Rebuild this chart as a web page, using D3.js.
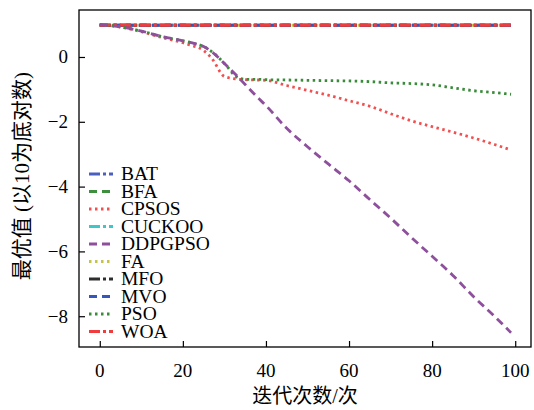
<!DOCTYPE html>
<html>
<head>
<meta charset="utf-8">
<script src="https://cdn.jsdelivr.net/npm/d3@7"></script>
<style>
  body { margin: 0; background: #fff; }
  text { font-family: "Liberation Serif", "Noto Sans CJK SC", serif; }
</style>
</head>
<body>
<svg id="chart" width="534" height="410"></svg>
<script>
'use strict'

const iters = [0, 5, 10, 15, 20, 22, 25, 27, 30, 33, 35, 38, 40, 45, 50, 55, 60, 65, 70, 75, 80, 85, 90, 95, 99]

const names = ['BAT', 'BFA', 'CPSOS', 'CUCKOO', 'DDPGPSO', 'FA', 'MFO', 'MVO', 'PSO', 'WOA']

const flat = iters.map(() => 0.98)
const batVals = flat
const bfaVals = flat
const cuckooVals = flat
const faVals = flat
const mfoVals = flat
const mvoVals = flat
const woaVals = flat
const cpsosVals = [1.0, 0.92, 0.78, 0.6, 0.44, 0.36, 0.2, -0.05, -0.6, -0.68, -0.7, -0.71, -0.72, -0.88, -1.03, -1.18, -1.35, -1.52, -1.75, -1.97, -2.15, -2.32, -2.5, -2.7, -2.87]
const ddpgVals = [1.0, 0.93, 0.8, 0.63, 0.5, 0.44, 0.32, 0.16, -0.2, -0.58, -0.85, -1.25, -1.5, -2.2, -2.77, -3.3, -3.82, -4.4, -4.97, -5.57, -6.15, -6.74, -7.4, -8.0, -8.51]
const psoVals = [1.0, 0.93, 0.8, 0.63, 0.5, 0.44, 0.32, 0.16, -0.2, -0.62, -0.69, -0.69, -0.7, -0.71, -0.72, -0.73, -0.74, -0.76, -0.8, -0.82, -0.86, -0.95, -1.04, -1.1, -1.15]

const seriesVals = [batVals, bfaVals, cpsosVals, cuckooVals, ddpgVals, faVals, mfoVals, mvoVals, psoVals, woaVals]

const xTicks = [0, 20, 40, 60, 80, 100]
const yTicks = [0, -2, -4, -6, -8]

// styles
const colors = ['#4a5fc0', '#3d8f3d', '#f25050', '#3fc6c6', '#8e4f9c', '#c4c44c', '#2e2e2e', '#3556bd', '#3a8c3a', '#f03c3c']
const dashes = ['11,3,3,3', '8,5', '2.5,3.5', '11,3,3,3', '8,5', '2.5,3.5', '11,3,3,3', '8,5', '2.5,3.5', '11,3,3,3']

const mLeft = 79, mRight = 531, mTop = 10, mBottom = 347

const x = d3.scaleLinear().domain([-5, 103.8]).range([mLeft, mRight])
const y = d3.scaleLinear().domain([-8.95, 1.45]).range([mBottom, mTop])

const svg = d3.select('#chart')

const line = d3.line()
  .x((d, i) => x(iters[i]))
  .y(d => y(d))
  .curve(d3.curveMonotoneX)

// draw flat series first, falling ones on top
const order = [0, 1, 3, 5, 6, 7, 9, 2, 8, 4]
order.forEach(k => {
  svg.append('path')
    .attr('d', line(seriesVals[k]))
    .attr('fill', 'none')
    .attr('stroke', colors[k])
    .attr('stroke-width', 2.8)
    .attr('stroke-dasharray', dashes[k])
})

// frame
svg.append('rect')
  .attr('x', mLeft).attr('y', mTop)
  .attr('width', mRight - mLeft).attr('height', mBottom - mTop)
  .attr('fill', 'none').attr('stroke', '#000').attr('stroke-width', 1.3)

// x axis (inward ticks)
const xAxis = d3.axisTop(x).tickValues(xTicks).tickSize(6).tickFormat('')
const gx = svg.append('g').attr('transform', `translate(0,${mBottom})`).call(xAxis)
gx.select('.domain').remove()
gx.selectAll('line').attr('stroke', '#000').attr('stroke-width', 1.2)
svg.selectAll('.xlab').data(xTicks).enter().append('text')
  .attr('x', d => x(d)).attr('y', 377)
  .attr('text-anchor', 'middle').attr('font-size', 19)
  .text(d => d)

// y axis (inward ticks)
const yAxis = d3.axisRight(y).tickValues(yTicks).tickSize(6).tickFormat('')
const gy = svg.append('g').attr('transform', `translate(${mLeft},0)`).call(yAxis)
gy.select('.domain').remove()
gy.selectAll('line').attr('stroke', '#000').attr('stroke-width', 1.2)
svg.selectAll('.ylab').data(yTicks).enter().append('text')
  .attr('x', 68).attr('y', d => y(d) + 6.5)
  .attr('text-anchor', 'end').attr('font-size', 19)
  .text(d => d < 0 ? '\u2212' + Math.abs(d) : d)

// axis titles
svg.append('text')
  .attr('x', 305).attr('y', 403)
  .attr('text-anchor', 'middle').attr('font-size', 20)
  .text('迭代次数/次')
svg.append('text')
  .attr('transform', 'translate(29,176) rotate(-90)')
  .attr('text-anchor', 'middle').attr('font-size', 21)
  .text('最优值 (以10为底对数)')

// legend
const leg = svg.append('g')
names.forEach((n, i) => {
  const ly = 174 + i * 17.5
  leg.append('line')
    .attr('x1', 89).attr('x2', 113).attr('y1', ly).attr('y2', ly)
    .attr('stroke', colors[i]).attr('stroke-width', 2.8)
    .attr('stroke-dasharray', dashes[i])
  leg.append('text')
    .attr('x', 121).attr('y', ly + 6)
    .attr('font-size', 19.5)
    .text(n)
})
</script>
</body>
</html>
